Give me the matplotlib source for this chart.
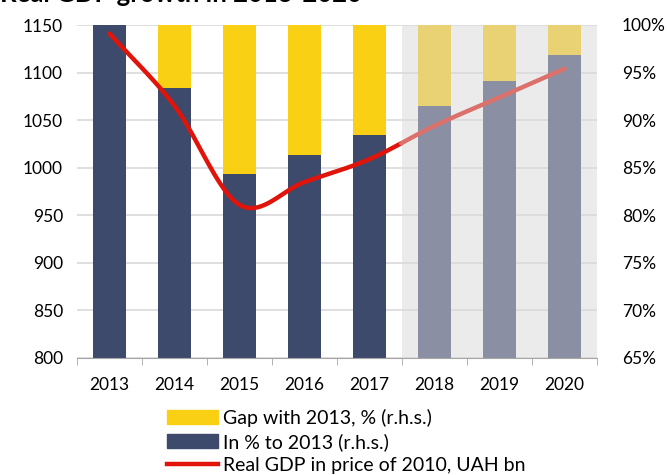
import numpy as np
import matplotlib
matplotlib.use("Agg")
import matplotlib.pyplot as plt
from matplotlib.patches import Patch
from matplotlib.lines import Line2D

plt.rcParams['font.family'] = ['Lato', 'DejaVu Sans']

years = ["2013", "2014", "2015", "2016", "2017", "2018", "2019", "2020"]
pct_to_2013 = [100.0, 93.4, 84.3, 86.3, 88.4, 91.5, 94.1, 96.8]
gdp = [1141, 1065, 961, 985, 1009, 1044, 1074, 1104]
n_actual = 5  # 2013-2017 actual, rest forecast

left_ticks = [800, 850, 900, 950, 1000, 1050, 1100, 1150]
right_ticks = [65, 70, 75, 80, 85, 90, 95, 100]

c_navy, c_yellow = "#3D4A6B", "#FAD015"
c_navy_f, c_yellow_f = "#8A8FA3", "#E9D274"
c_red, c_red_f = "#E0140A", "#DC716C"
c_bg = "#EBEBEB"

fig = plt.figure(figsize=(6.67, 4.75), dpi=100)
ax = fig.add_axes([77/667, 1-358/475, 520/667, 333/475])
ax2 = ax.twinx()
x = np.arange(len(years))

ax.axvspan(n_actual-0.5, len(years)-0.5, color=c_bg, zorder=0, lw=0)
for i in x:
    bottom_c = c_navy if i < n_actual else c_navy_f
    top_c = c_yellow if i < n_actual else c_yellow_f
    ax.bar(i, pct_to_2013[i]-65, bottom=65, width=0.5, color=bottom_c, zorder=2)
    ax.bar(i, 100-pct_to_2013[i], bottom=pct_to_2013[i], width=0.5, color=top_c, zorder=2)

ax.set_ylim(65, 100)
ax.set_xlim(-0.5, len(years)-0.5)
ax.set_yticks(right_ticks)
ax.set_yticklabels([f"{v}%" for v in right_ticks])
ax.yaxis.tick_right()
ax.yaxis.set_tick_params(length=0, pad=18, labelsize=12.5)
ax.grid(axis='y', color='#D9D9D9', lw=1.2, zorder=1)
ax.set_axisbelow(True)
ax.set_xticks(x)
ax.set_xticklabels(years)
ax.set_xticks(np.arange(-0.5, len(years)), minor=True)
ax.tick_params(axis='x', which='major', length=0, pad=14, labelsize=12.5)
ax.tick_params(axis='x', which='minor', length=5, color='#A6A6A6')
for s in ['top', 'left', 'right']:
    ax.spines[s].set_visible(False)
ax.spines['bottom'].set_color('#A6A6A6')

ax2.set_ylim(800, 1150)
ax2.set_yticks(left_ticks)
ax2.yaxis.tick_left()
ax2.yaxis.set_tick_params(length=0, pad=10, labelsize=12.5)
for s in ['top', 'left', 'right', 'bottom']:
    ax2.spines[s].set_visible(False)

# Catmull-Rom smoothing (Excel-style smoothed line)
P = np.column_stack([x, gdp]).astype(float)
ext = np.vstack([P[0] - (P[1]-P[0]), P, P[-1] + (P[-1]-P[-2])])
pts = []
for k in range(1, len(ext)-2):
    p0, p1, p2, p3 = ext[k-1], ext[k], ext[k+1], ext[k+2]
    t = np.linspace(0, 1, 40)[:, None]
    seg = 0.5*((2*p1) + (-p0+p2)*t + (2*p0-5*p1+4*p2-p3)*t**2 + (-p0+3*p1-3*p2+p3)*t**3)
    pts.append(seg if k == 1 else seg[1:])
curve = np.vstack(pts)
split = n_actual - 0.5
m1 = curve[:, 0] <= split
m2 = curve[:, 0] >= split - 0.02
ax2.plot(curve[m1, 0], curve[m1, 1], color=c_red, lw=3.2, solid_capstyle='round', zorder=5)
ax2.plot(curve[m2, 0], curve[m2, 1], color=c_red_f, lw=3.2, solid_capstyle='round', zorder=5)

fig.text(0.0, 1-2/475, "Real GDP growth in 2013-2020", fontsize=18.5, fontweight='bold',
         va='baseline', ha='left')

handles = [Patch(color=c_yellow), Patch(color=c_navy), Line2D([], [], color=c_red, lw=3.2)]
labels = ["Gap with 2013, % (r.h.s.)", "In % to 2013 (r.h.s.)", "Real GDP in price of 2010, UAH bn"]
fig.legend(handles, labels, loc='upper left', bbox_to_anchor=(167/667, 1-409/475),
           frameon=False, fontsize=14, handlelength=2.6, handleheight=0.7,
           handletextpad=0.3, labelspacing=0.3, borderpad=0, borderaxespad=0)

fig.savefig("out.png", dpi=100)
